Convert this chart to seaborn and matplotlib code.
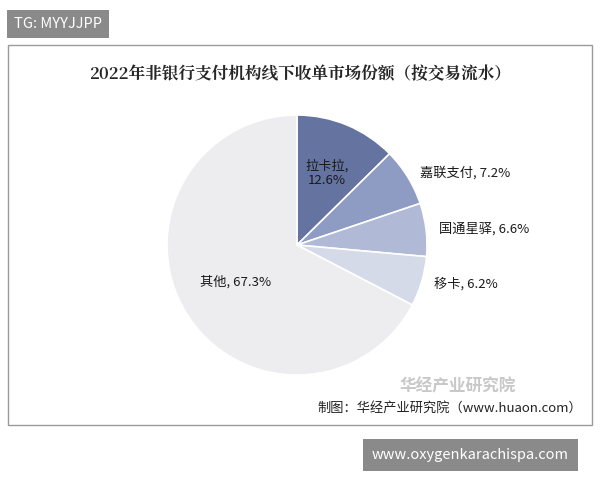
import matplotlib.pyplot as plt
import numpy as np
import seaborn as sns
from matplotlib.patches import Rectangle

sns.set_style("white")
plt.rcParams['font.family'] = ['Noto Sans CJK SC', 'DejaVu Sans']

# data
companies = ['拉卡拉', '嘉联支付', '国通星驿', '移卡', '其他']
shares = [12.6, 7.2, 6.6, 6.2, 67.3]
colors = ['#64739f', '#8e9bc2', '#b0bad6', '#d5dae8', '#ededf0']

fig = plt.figure(figsize=(6, 4.8), dpi=100)
fig.patch.set_facecolor('white')

# chart frame
fig.add_artist(Rectangle((8/600, 1-425/480), 584/600, 380/480, transform=fig.transFigure,
                         fill=False, edgecolor='#9a9a9a', lw=1))

# top tag and bottom watermark boxes
fig.text(14/600, 1-24/480, 'TG: MYYJJPP', color='white', fontsize=10.5, va='center',
         bbox=dict(boxstyle='square,pad=0.45', fc='#8a8a8a', ec='none'))
fig.text(372/600, 1-455/480, 'www.oxygenkarachispa.com', color='white', fontsize=10.5, va='center',
         bbox=dict(boxstyle='square,pad=0.6', fc='#8a8a8a', ec='none'))

fig.text(0.5, 1-75/480, '2022年非银行支付机构线下收单市场份额（按交易流水）',
         ha='center', va='center', fontsize=12, fontweight='bold',
         family=['Noto Serif CJK SC', 'Noto Sans CJK SC', 'DejaVu Sans'])

ax = fig.add_axes([(297-130)/600, 1-(245+130)/480, 260/600, 260/480])
wedges, _ = ax.pie(shares, colors=colors, startangle=90, counterclock=False,
                   wedgeprops=dict(edgecolor='white', linewidth=1.2))
ax.set_xlim(-1, 1)
ax.set_ylim(-1, 1)
ax.set_aspect('equal')
ax.axis('off')

for i, (w, name, v) in enumerate(zip(wedges, companies, shares)):
    ang = np.deg2rad((w.theta1 + w.theta2) / 2)
    if i == 0:
        r = 0.6
        ax.text(r*np.cos(ang), r*np.sin(ang), f'{name},\n{v}%', ha='center', va='center',
                fontsize=9.5, color='#1a1a1a')
    elif i == 4:
        r = 0.55
        ax.text(r*np.cos(ang), r*np.sin(ang), f'{name}, {v}%', ha='center', va='center',
                fontsize=9.5, color='#1a1a1a')
    else:
        r = 1.06
        ax.text(r*np.cos(ang) + 0.04, r*np.sin(ang), f'{name}, {v}%', ha='left', va='center',
                fontsize=9.5, color='#1a1a1a')

# source
fig.text(458/600, 1-386/480, '华经产业研究院', fontsize=12, color='#c8c8c8', ha='center',
         va='center', fontweight='bold')
fig.text(582/600, 1-408/480, '制图：华经产业研究院（www.huaon.com）', fontsize=9.5,
         color='#222222', ha='right', va='center')

fig.savefig('out.png', dpi=100)
